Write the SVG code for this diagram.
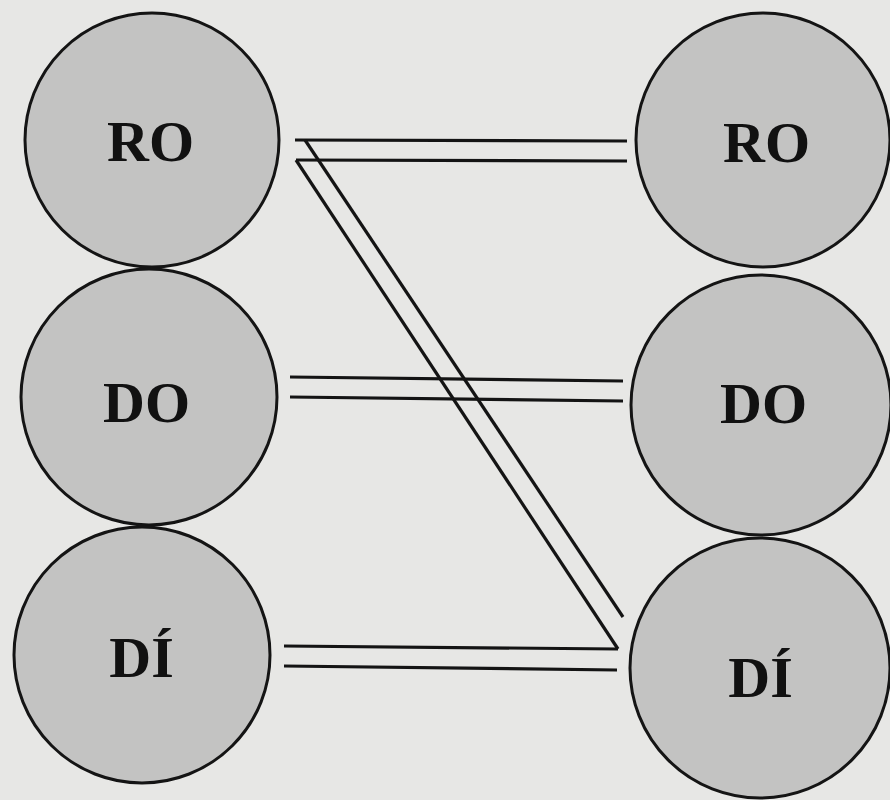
<svg xmlns="http://www.w3.org/2000/svg" width="890" height="800" viewBox="0 0 890 800">
<style>
.node{fill:#c3c3c2;stroke:#141414;stroke-width:3}
.lbl{font-family:"Liberation Serif","Times New Roman",serif;font-weight:bold;font-size:58px;fill:#111111;text-anchor:middle}
.conn line{stroke:#141414;stroke-width:3.2;stroke-linecap:butt}
</style>
<rect x="0" y="0" width="890" height="800" fill="#e7e7e5"/>
<g id="connectors" class="conn">
<line x1="295" y1="140" x2="627" y2="141"/>
<line x1="296" y1="160" x2="627" y2="161"/>
<line x1="305" y1="140" x2="623" y2="617"/>
<line x1="296" y1="160" x2="618" y2="649"/>
<line x1="290" y1="377" x2="623" y2="381"/>
<line x1="290" y1="397" x2="623" y2="401"/>
<line x1="284" y1="646" x2="618" y2="649"/>
<line x1="284" y1="666" x2="617" y2="670"/>
</g>
<g id="left-ro"><circle class="node" cx="152" cy="140" r="127"/><text class="lbl" x="150.5" y="161">RO</text></g>
<g id="left-do"><circle class="node" cx="149" cy="397" r="128"/><text class="lbl" x="146.5" y="422">DO</text></g>
<g id="left-di"><circle class="node" cx="142" cy="655" r="128"/><text class="lbl" x="141.5" y="677">DÍ</text></g>
<g id="right-ro"><circle class="node" cx="763" cy="140" r="127"/><text class="lbl" x="766.5" y="162">RO</text></g>
<g id="right-do"><circle class="node" cx="761" cy="405" r="130"/><text class="lbl" x="763.5" y="423">DO</text></g>
<g id="right-di"><circle class="node" cx="760" cy="668" r="130"/><text class="lbl" x="760.5" y="697">DÍ</text></g>
</svg>
